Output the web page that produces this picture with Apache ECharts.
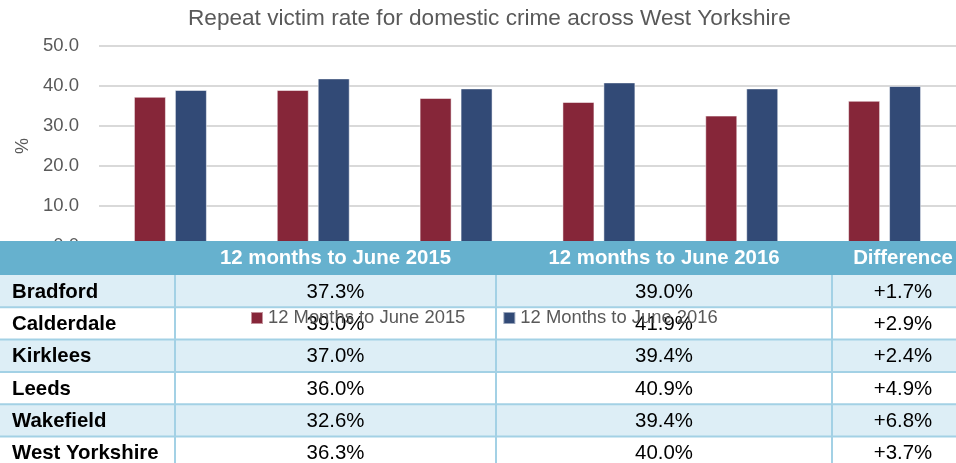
<!DOCTYPE html>
<html>
<head>
<meta charset="utf-8">
<script src="https://cdn.jsdelivr.net/npm/echarts@6/dist/echarts.min.js"></script>
<style>
  html, body { margin: 0; padding: 0; background: #fff; }
  #container { width: 956px; height: 463px; }
</style>
</head>
<body>
<div id="container"></div>
<script>
var areas = ['Bradford', 'Calderdale', 'Kirklees', 'Leeds', 'Wakefield', 'West Yorkshire'];
var rate2015 = [37.3, 39.0, 37.0, 36.0, 32.6, 36.3];
var rate2016 = [39.0, 41.9, 39.4, 40.9, 39.4, 40.0];
var diffs = ['+1.7%', '+2.9%', '+2.4%', '+4.9%', '+6.8%', '+3.7%'];
var seriesNames = ['12 Months to June 2015', '12 Months to June 2016'];
var tableHead = ['', '12 months to June 2015', '12 months to June 2016', 'Difference'];

var dom = document.getElementById('container');
var myChart = echarts.init(dom);
var font = 'Liberation Sans, Arial, sans-serif';

// table drawn over the bottom of the chart
var colX = [0, 175, 496, 832, 974];
var headTop = 241, headH = 34, rowH = 32.3;
var table = [];
table.push({ type: 'rect', z: 3, shape: { x: 0, y: headTop, width: 956, height: headH }, style: { fill: '#66b1ce' } });
for (var c = 1; c < tableHead.length; c++) {
    table.push({
        type: 'text', z: 5,
        style: { text: tableHead[c], x: (colX[c] + colX[c + 1]) / 2, y: headTop + headH / 2,
            align: 'center', verticalAlign: 'middle', fill: '#fff', font: 'bold 20.4px ' + font }
    });
}
for (var r = 0; r < areas.length; r++) {
    var rowTop = headTop + headH + r * rowH;
    table.push({ type: 'rect', z: 3, shape: { x: 0, y: rowTop, width: 956, height: rowH },
        style: { fill: r % 2 === 0 ? '#ddeef6' : '#ffffff' } });
    table.push({ type: 'line', z: 4, shape: { x1: 0, y1: rowTop + rowH, x2: 956, y2: rowTop + rowH },
        style: { stroke: '#a3d1e5', lineWidth: 2 } });
    var mid = rowTop + rowH / 2 + 1;
    var cells = [rate2015[r].toFixed(1) + '%', rate2016[r].toFixed(1) + '%', diffs[r]];
    table.push({ type: 'text', z: 5, style: { text: areas[r], x: 12, y: mid, align: 'left', verticalAlign: 'middle',
        fill: '#000', font: 'bold 20.4px ' + font } });
    for (var k = 0; k < cells.length; k++) {
        table.push({ type: 'text', z: 5, style: { text: cells[k], x: (colX[k + 1] + colX[k + 2]) / 2, y: mid,
            align: 'center', verticalAlign: 'middle', fill: '#000', font: '20.4px ' + font } });
    }
}
for (var v = 1; v <= 3; v++) {
    table.push({ type: 'line', z: 4, shape: { x1: colX[v], y1: headTop + headH, x2: colX[v], y2: 463 },
        style: { stroke: '#a3d1e5', lineWidth: 2 } });
}

var option = {
    title: {
        text: 'Repeat victim rate for domestic crime across West Yorkshire',
        left: 188, top: 7, padding: 0,
        textStyle: { fontFamily: font, fontSize: 22.6, fontWeight: 'normal', color: '#595959' }
    },
    legend: {
        left: 250, top: 309, padding: 0,
        itemWidth: 12, itemHeight: 12, itemGap: 37,
        icon: 'rect', z: 10,
        textStyle: { fontFamily: font, fontSize: 18.4, color: '#595959' },
        data: seriesNames
    },
    grid: { left: 99, top: 46, width: 860, height: 200, containLabel: false },
    xAxis: {
        type: 'category', data: areas,
        axisLine: { show: false }, axisTick: { show: false }, axisLabel: { show: false }
    },
    yAxis: {
        type: 'value', min: 0, max: 50, interval: 10,
        name: '%', nameLocation: 'middle', nameRotate: 90, nameGap: 66,
        nameTextStyle: { fontFamily: font, fontSize: 18, color: '#595959' },
        axisLabel: { fontFamily: font, fontSize: 18.5, color: '#595959', margin: 20,
            formatter: function (val) { return val.toFixed(1); } },
        splitLine: { lineStyle: { color: '#d9d9d9', width: 2 } }
    },
    series: [
        { name: seriesNames[0], type: 'bar', data: rate2015, barWidth: 32, barGap: '28%',
          itemStyle: { color: '#862639', borderColor: 'rgba(255,255,255,0.5)', borderWidth: 1 } },
        { name: seriesNames[1], type: 'bar', data: rate2016, barWidth: 32,
          itemStyle: { color: '#324a76', borderColor: 'rgba(255,255,255,0.5)', borderWidth: 1 } }
    ],
    graphic: table
};

if (option && typeof option === 'object') {
    myChart.setOption(option, true);
}
</script>
</body>
</html>
